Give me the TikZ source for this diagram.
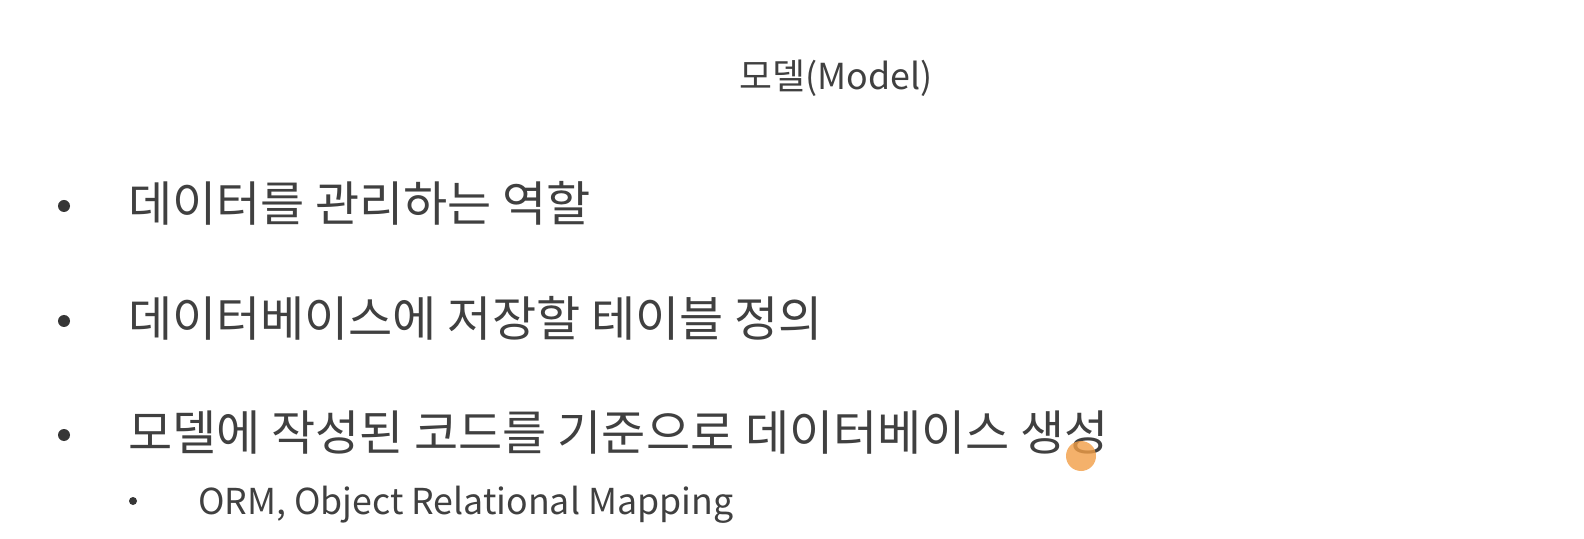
\documentclass[tikz,border=0pt]{standalone}
\usepackage{fontspec}
\setmainfont{Noto Sans CJK KR}
\definecolor{txt}{RGB}{64,64,64}
\definecolor{cursor}{RGB}{242,158,70}
\begin{document}
\begin{tikzpicture}[x=0.5pt,y=-0.5pt,
  every node/.style={inner sep=0pt, outer sep=0pt, text=txt},
  title/.style={anchor=base, font=\fontsize{17.9}{21}\selectfont},
  item/.style={anchor=base west, font=\fontsize{24}{29}\selectfont},
  subitem/.style={anchor=base west, font=\fontsize{17.85}{21}\selectfont},
  dot/.style={circle, fill=txt!85!black, minimum size=6pt},
  subdot/.style={circle, fill=txt!85!black, minimum size=4pt}]
\useasboundingbox[fill=white] (0,0) rectangle (1584,539);
\node[title] (t) at (836,90) {모델(Model)};
\node[dot] (d1) at (64,206) {};
\node[item] (b1) at (128,222) {데이터를 관리하는 역할};
\node[dot] (d2) at (64,321) {};
\node[item] (b2) at (128,337) {데이터베이스에 저장할 테이블 정의};
\node[dot] (d3) at (64,435) {};
\node[item] (b3) at (128,451) {모델에 작성된 코드를 기준으로 데이터베이스 생성};
\node[subdot] (d4) at (133,501) {};
\node[subitem] (b4) at (198,514) {ORM, Object Relational Mapping};
\node[circle, fill=cursor, fill opacity=0.8, minimum size=15pt] (c) at (1081,456) {};
\end{tikzpicture}
\end{document}
